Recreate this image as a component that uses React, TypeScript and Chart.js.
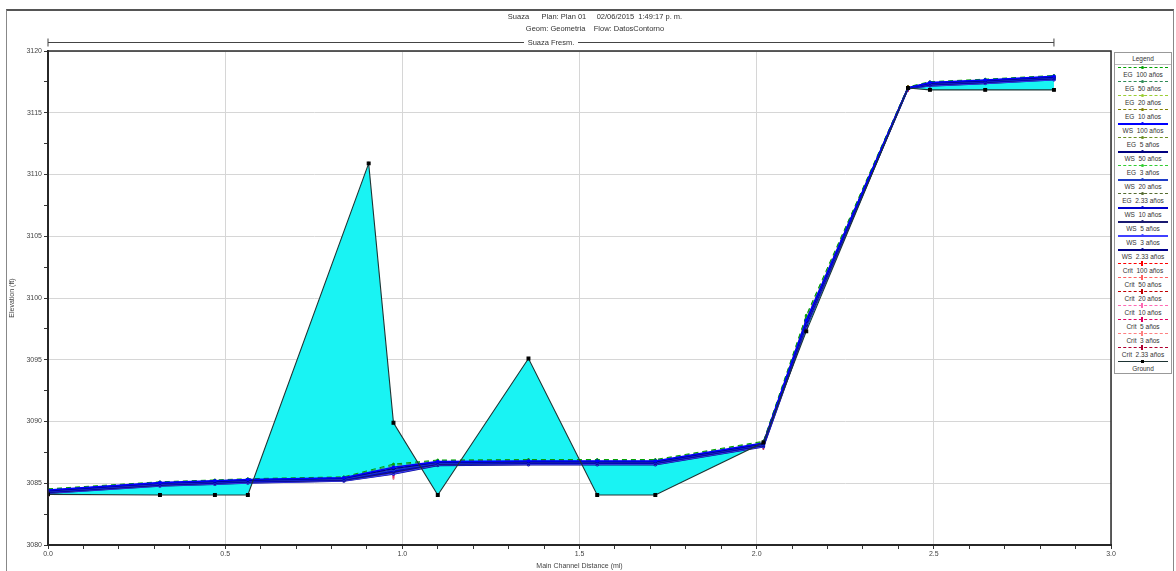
import React, { useEffect, useRef } from 'react';
import { Chart, registerables } from 'chart.js';
Chart.register(...registerables);

// ---------- DATA ----------
const titleLine1 = 'Suaza      Plan: Plan 01     02/06/2015  1:49:17 p. m.';
const titleLine2 = 'Geom: Geometria    Flow: DatosContorno';
const reachName = 'Suaza Fresm.';
const xAxisTitle = 'Main Channel Distance (mi)';
const yAxisTitle = 'Elevation (ft)';
const legendTitle = 'Legend';

const groundStations = [0, 0.316, 0.471, 0.564, 0.905, 0.975, 1.10, 1.356, 1.55, 1.714, 2.019, 2.14, 2.427, 2.489, 2.645, 2.839];
const groundElev = [3084.1, 3084.05, 3084.05, 3084.05, 3110.9, 3089.9, 3084.05, 3095.1, 3084.05, 3084.05, 3088.3, 3097.3, 3117.0, 3116.85, 3116.85, 3116.85];

const wsStations = [0, 0.316, 0.471, 0.564, 0.835, 0.975, 1.10, 1.356, 1.55, 1.714, 2.019, 2.14, 2.427, 2.489, 2.645, 2.839];

const ws100 = [3084.45, 3085.05, 3085.2, 3085.3, 3085.45, 3086.3, 3086.75, 3086.8, 3086.8, 3086.8, 3088.25, 3098.2, 3117.0, 3117.45, 3117.65, 3117.95];
const ws50 = [3084.4, 3085.0, 3085.15, 3085.25, 3085.4, 3086.2, 3086.7, 3086.75, 3086.75, 3086.75, 3088.2, 3098.1, 3117.0, 3117.4, 3117.6, 3117.9];
const ws20 = [3084.35, 3084.95, 3085.1, 3085.2, 3085.35, 3086.1, 3086.65, 3086.7, 3086.7, 3086.7, 3088.15, 3098.0, 3116.98, 3117.35, 3117.55, 3117.85];
const ws10 = [3084.3, 3084.9, 3085.05, 3085.15, 3085.3, 3086.0, 3086.6, 3086.65, 3086.65, 3086.65, 3088.1, 3097.9, 3116.97, 3117.3, 3117.5, 3117.8];
const ws5 = [3084.25, 3084.85, 3085.0, 3085.1, 3085.25, 3085.9, 3086.55, 3086.6, 3086.6, 3086.6, 3088.05, 3097.8, 3116.96, 3117.25, 3117.45, 3117.75];
const ws3 = [3084.22, 3084.8, 3084.95, 3085.05, 3085.2, 3085.8, 3086.5, 3086.55, 3086.55, 3086.55, 3088.0, 3097.7, 3116.95, 3117.2, 3117.4, 3117.7];
const ws233 = [3084.2, 3084.78, 3084.92, 3085.02, 3085.18, 3085.75, 3086.45, 3086.5, 3086.5, 3086.5, 3087.95, 3097.65, 3116.94, 3117.18, 3117.38, 3117.68];

const eg100 = [3084.55, 3085.12, 3085.27, 3085.37, 3085.52, 3086.55, 3086.88, 3086.92, 3086.92, 3086.92, 3088.4, 3098.6, 3117.1, 3117.52, 3117.72, 3118.02];
const eg50 = [3084.5, 3085.07, 3085.22, 3085.32, 3085.47, 3086.45, 3086.83, 3086.87, 3086.87, 3086.87, 3088.35, 3098.5, 3117.08, 3117.47, 3117.67, 3117.97];
const eg20 = [3084.45, 3085.02, 3085.17, 3085.27, 3085.42, 3086.35, 3086.78, 3086.82, 3086.82, 3086.82, 3088.3, 3098.4, 3117.06, 3117.42, 3117.62, 3117.92];
const eg10 = [3084.4, 3084.97, 3085.12, 3085.22, 3085.37, 3086.25, 3086.73, 3086.77, 3086.77, 3086.77, 3088.25, 3098.3, 3117.05, 3117.37, 3117.57, 3117.87];
const eg5 = [3084.35, 3084.92, 3085.07, 3085.17, 3085.32, 3086.15, 3086.68, 3086.72, 3086.72, 3086.72, 3088.2, 3098.2, 3117.04, 3117.32, 3117.52, 3117.82];
const eg3 = [3084.3, 3084.87, 3085.02, 3085.12, 3085.27, 3086.05, 3086.63, 3086.67, 3086.67, 3086.67, 3088.15, 3098.1, 3117.03, 3117.27, 3117.47, 3117.77];
const eg233 = [3084.28, 3084.85, 3085.0, 3085.1, 3085.25, 3086.0, 3086.6, 3086.64, 3086.64, 3086.64, 3088.1, 3098.05, 3117.02, 3117.25, 3117.45, 3117.75];

const crit100 = [3084.4, null, null, null, null, 3086.1, null, null, null, null, 3088.25, 3098.2, 3117.0, null, null, null];
const crit50 = [3084.35, null, null, null, null, 3086.0, null, null, null, null, 3088.2, 3098.1, 3117.0, null, null, null];
const crit20 = [3084.3, null, null, null, null, 3085.9, null, null, null, null, 3088.15, 3098.0, 3116.98, null, null, null];
const crit10 = [3084.25, null, null, null, null, 3085.8, null, null, null, null, 3088.1, 3097.9, 3116.97, null, null, null];
const crit5 = [3084.2, null, null, null, null, 3085.7, null, null, null, null, 3088.05, 3097.8, 3116.96, null, null, null];
const crit3 = [3084.15, null, null, null, null, 3085.6, null, null, null, null, 3088.0, 3097.7, 3116.95, null, null, null];
const crit233 = [3084.1, null, null, null, null, 3085.55, null, null, null, null, 3087.95, 3097.65, 3116.94, null, null, null];

const xMin = 0, xMax = 3, xMinorStep = 0.1, xMajorStep = 0.5;
const yMin = 3080, yMax = 3120, yMinorStep = 2.5, yMajorStep = 5;

type Series = { label: string; kind: 'EG' | 'WS' | 'Crit' | 'Ground'; color: string; values: (number | null)[] };

// legend order
const seriesList: Series[] = [
  { label: 'EG  100 años', kind: 'EG', color: '#00a000', values: eg100 },
  { label: 'EG  50 años', kind: 'EG', color: '#2e8b57', values: eg50 },
  { label: 'EG  20 años', kind: 'EG', color: '#9acd32', values: eg20 },
  { label: 'EG  10 años', kind: 'EG', color: '#808000', values: eg10 },
  { label: 'WS  100 años', kind: 'WS', color: '#0000ff', values: ws100 },
  { label: 'EG  5 años', kind: 'EG', color: '#6b8e23', values: eg5 },
  { label: 'WS  50 años', kind: 'WS', color: '#000080', values: ws50 },
  { label: 'EG  3 años', kind: 'EG', color: '#32cd32', values: eg3 },
  { label: 'WS  20 años', kind: 'WS', color: '#1e3cc8', values: ws20 },
  { label: 'EG  2.33 años', kind: 'EG', color: '#556b2f', values: eg233 },
  { label: 'WS  10 años', kind: 'WS', color: '#0000cd', values: ws10 },
  { label: 'WS  5 años', kind: 'WS', color: '#191970', values: ws5 },
  { label: 'WS  3 años', kind: 'WS', color: '#4040ff', values: ws3 },
  { label: 'WS  2.33 años', kind: 'WS', color: '#00008b', values: ws233 },
  { label: 'Crit  100 años', kind: 'Crit', color: '#ff0000', values: crit100 },
  { label: 'Crit  50 años', kind: 'Crit', color: '#ff6060', values: crit50 },
  { label: 'Crit  20 años', kind: 'Crit', color: '#c00000', values: crit20 },
  { label: 'Crit  10 años', kind: 'Crit', color: '#ff69b4', values: crit10 },
  { label: 'Crit  5 años', kind: 'Crit', color: '#e00060', values: crit5 },
  { label: 'Crit  3 años', kind: 'Crit', color: '#ff8080', values: crit3 },
  { label: 'Crit  2.33 años', kind: 'Crit', color: '#b00030', values: crit233 },
  { label: 'Ground', kind: 'Ground', color: '#1e3434', values: groundElev },
];

const fillColor = '#19f3f3';
const FONT = "'Liberation Sans', Arial, sans-serif";

const isMultiple = (v: number, step: number) => Math.abs(v / step - Math.round(v / step)) < 1e-6;

export default function App() {
  const canvasRef = useRef<HTMLCanvasElement | null>(null);

  useEffect(() => {
    document.body.style.margin = '0';
    const canvas = canvasRef.current;
    if (!canvas) return;
    const wsIndex = seriesList.findIndex((s) => s.label === 'WS  100 años');

    const datasets: any[] = seriesList.map((s) => {
      const stations = s.kind === 'Ground' ? groundStations : wsStations;
      const data = s.values.map((v, i) => ({ x: stations[i], y: v }));
      const base: any = {
        label: s.label,
        data,
        showLine: true,
        spanGaps: false,
        borderColor: s.color,
        backgroundColor: s.color,
        pointBorderColor: s.color,
        pointBackgroundColor: s.color,
      };
      if (s.kind === 'EG') {
        Object.assign(base, { order: 3, borderWidth: 1, borderDash: [5, 4], pointRadius: 1, pointStyle: 'circle', fill: false });
      } else if (s.kind === 'WS') {
        Object.assign(base, { order: 2, borderWidth: 1.6, pointRadius: 1, pointStyle: 'circle', fill: false });
      } else if (s.kind === 'Crit') {
        Object.assign(base, { order: 4, borderWidth: 1, pointRadius: 3, pointStyle: 'line', rotation: 90, pointBorderWidth: 1.5, fill: false });
      } else {
        Object.assign(base, {
          order: 0,
          borderWidth: 1.1,
          pointRadius: 2,
          pointStyle: 'rect',
          pointBorderColor: '#000',
          pointBackgroundColor: '#000',
          fill: { target: wsIndex, above: fillColor, below: fillColor },
        });
      }
      return base;
    });

    const framePlugin = {
      id: 'framePlugin',
      afterDraw(chart: any) {
        const { ctx, chartArea: a, scales } = chart;
        const x = scales.x;
        ctx.save();
        ctx.strokeStyle = '#2a2a2a';
        ctx.lineWidth = 1.5;
        ctx.strokeRect(a.left, a.top, a.right - a.left, a.bottom - a.top);
        // reach bar
        const x0 = x.getPixelForValue(groundStations[0]);
        const x1 = x.getPixelForValue(groundStations[groundStations.length - 1]);
        const yb = 42.5;
        ctx.strokeStyle = '#444';
        ctx.lineWidth = 1;
        ctx.beginPath();
        ctx.moveTo(x0, yb);
        ctx.lineTo(x1, yb);
        ctx.moveTo(x0, yb - 4);
        ctx.lineTo(x0, yb + 4);
        ctx.moveTo(x1, yb - 4);
        ctx.lineTo(x1, yb + 4);
        ctx.stroke();
        ctx.restore();
      },
    };

    const chart = new Chart(canvas, {
      type: 'scatter',
      data: { datasets },
      plugins: [framePlugin],
      options: {
        animation: false,
        responsive: false,
        maintainAspectRatio: false,
        layout: { padding: { left: 0, top: 51, right: 65, bottom: 0 } },
        plugins: {
          legend: { display: false },
          tooltip: { enabled: false },
          filler: { drawTime: 'beforeDatasetsDraw' },
        } as any,
        scales: {
          x: {
            type: 'linear',
            min: xMin,
            max: xMax,
            afterFit: (scale: any) => {
              scale.height = 26;
            },
            border: { color: '#222', width: 2 },
            grid: {
              color: (c: any) => (c.tick && isMultiple(c.tick.value, xMajorStep) ? '#d6d6d6' : 'rgba(0,0,0,0)'),
              tickColor: '#333',
              tickLength: 4,
              lineWidth: 1,
            },
            ticks: {
              stepSize: xMinorStep,
              autoSkip: false,
              maxRotation: 0,
              padding: 1,
              color: '#444',
              font: { family: FONT, size: 7 },
              callback: (v: any) => (isMultiple(Number(v), xMajorStep) ? Number(v).toFixed(1) : ''),
            },
            title: {
              display: true,
              text: xAxisTitle,
              color: '#444',
              font: { family: FONT, size: 7 },
              padding: { top: 0, bottom: 1 },
            },
          },
          y: {
            type: 'linear',
            min: yMin,
            max: yMax,
            afterFit: (scale: any) => {
              scale.width = 48;
            },
            border: { color: '#222', width: 2 },
            grid: {
              color: (c: any) => (c.tick && isMultiple(c.tick.value - yMin, yMajorStep) ? '#d6d6d6' : 'rgba(0,0,0,0)'),
              tickColor: '#333',
              tickLength: 4,
              lineWidth: 1,
            },
            ticks: {
              stepSize: yMinorStep,
              autoSkip: false,
              padding: 2,
              color: '#444',
              font: { family: FONT, size: 7 },
              callback: (v: any) => (isMultiple(Number(v) - yMin, yMajorStep) ? String(Math.round(Number(v))) : ''),
            },
            title: {
              display: true,
              text: yAxisTitle,
              color: '#444',
              font: { family: FONT, size: 7 },
              padding: { top: 8, bottom: 0 },
            },
          },
        },
      } as any,
    });
    return () => chart.destroy();
  }, []);

  const textStyle: React.CSSProperties = {
    position: 'absolute',
    fontFamily: FONT,
    fontSize: 7.5,
    color: '#333',
    whiteSpace: 'pre',
    lineHeight: '9px',
  };

  return (
    <div style={{ position: 'relative', width: 1176, height: 571, overflow: 'hidden', background: '#fff' }}>
      <div
        style={{
          position: 'absolute',
          left: 6,
          top: 9,
          width: 1166,
          height: 580,
          borderTop: '2px solid #555',
          borderLeft: '1px solid #888',
          borderRight: '1px solid #888',
        }}
      />
      <canvas ref={canvasRef} width={1176} height={571} style={{ position: 'absolute', left: 0, top: 0, width: 1176, height: 571 }} />
      <div style={{ ...textStyle, left: 0, width: 1190, top: 12, textAlign: 'center' }}>{titleLine1}</div>
      <div style={{ ...textStyle, left: 0, width: 1190, top: 24, textAlign: 'center' }}>{titleLine2}</div>
      <div style={{ ...textStyle, left: 0, width: 1102, top: 38, textAlign: 'center' }}>
        <span style={{ background: '#fff', padding: '0 4px' }}>{reachName}</span>
      </div>
      <div
        style={{
          position: 'absolute',
          left: 1114,
          top: 52,
          width: 56,
          border: '1px solid #999',
          background: '#fff',
          fontFamily: FONT,
          fontSize: 6.5,
          color: '#333',
        }}
      >
        <div style={{ height: 11, lineHeight: '11px', textAlign: 'center', borderBottom: '1px solid #bbb' }}>{legendTitle}</div>
        {seriesList.map((s) => {
          const dashed = s.kind === 'EG' || s.kind === 'Crit';
          return (
            <div key={s.label} style={{ position: 'relative', height: 14 }}>
              <div
                style={{
                  position: 'absolute',
                  left: 3,
                  right: 3,
                  top: 2,
                  borderTop: `${s.kind === 'WS' ? 2 : 1}px ${dashed ? 'dashed' : 'solid'} ${s.color}`,
                }}
              />
              <div
                style={{
                  position: 'absolute',
                  left: 26,
                  top: s.kind === 'Crit' ? 0 : 1,
                  width: s.kind === 'Crit' ? 1.5 : 3,
                  height: s.kind === 'Crit' ? 5 : 3,
                  background: s.kind === 'Ground' ? '#000' : s.color,
                  borderRadius: s.kind === 'Ground' || s.kind === 'Crit' ? 0 : 2,
                }}
              />
              <div style={{ position: 'absolute', left: 0, right: 0, top: 5, lineHeight: '9px', textAlign: 'center', whiteSpace: 'pre' }}>
                {s.label}
              </div>
            </div>
          );
        })}
      </div>
    </div>
  );
}
